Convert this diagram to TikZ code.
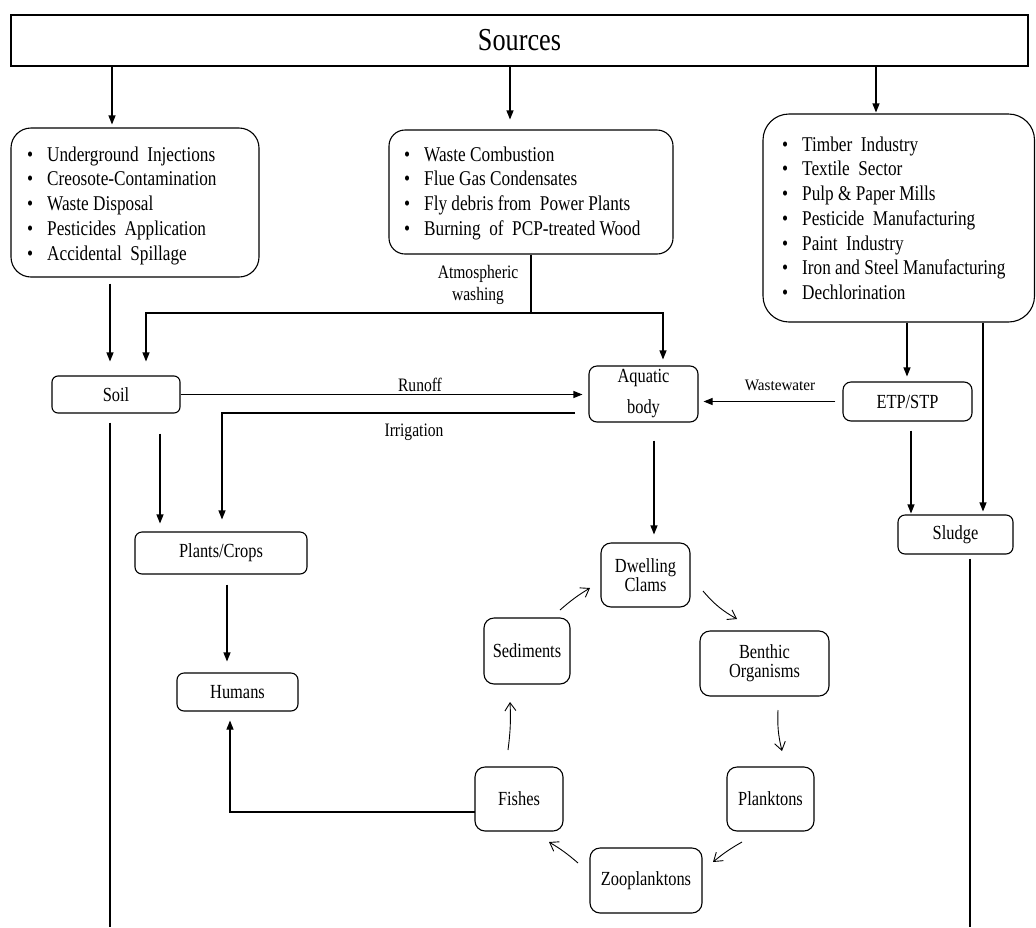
\documentclass[tikz,border=0pt]{standalone}
\usepackage{fontspec}
\setmainfont[FakeStretch=0.82]{Liberation Serif}
\newfontfamily\wwfont[FakeStretch=0.95]{Liberation Serif}
\usetikzlibrary{arrows.meta}
\newcommand{\bul}{\makebox[20pt][l]{{\fontsize{21}{21}\selectfont •}}}
\begin{document}
\begin{tikzpicture}[x=1pt,y=-1pt,
  rbox/.style={draw, line width=1.1pt, rounded corners=#1, inner sep=0pt, align=center, font=\fontsize{20}{19}\selectfont},
  rbox/.default=7pt,
  lst/.style={anchor=north west, inner sep=0pt, align=left, font=\fontsize{21}{24.7}\selectfont},
  lbl/.style={inner sep=0pt, align=center, font=\fontsize{19}{21.5}\selectfont},
  arr/.style={line width=1.1pt, -{Triangle[length=9pt,width=7pt]}},
  carr/.style={line width=0.9pt, -{Straight Barb[length=8pt,width=11pt]}},
  ln/.style={line width=1.1pt}]
\fill[white] (0,0) rectangle (1036,927);
\useasboundingbox (0,0) rectangle (1036,927);

% boxes
\node[draw, line width=1.1pt, minimum width=1017pt, minimum height=51pt, inner sep=0pt,
      font=\fontsize{32}{36}\selectfont] (sources) at (519.5,40.5) {Sources};
\node[rbox=20pt, minimum width=248pt, minimum height=149pt] (leftbox) at (135,202.5) {};
\node[rbox=16pt, minimum width=284pt, minimum height=124pt] (midbox) at (531,192) {};
\node[rbox=26pt, minimum width=271.5pt, minimum height=208pt] (rightbox) at (898.75,218) {};

\node[lst] (leftlist) at (27,145) {\rule{0pt}{16pt}\bul Underground\ \ Injections\\ \bul Creosote-Contamination\\ \bul Waste Disposal\\ \bul Pesticides\ \ Application\\ \bul Accidental\ \ Spillage};
\node[lst] (midlist) at (404,145) {\rule{0pt}{16pt}\bul Waste Combustion\\ \bul Flue Gas Condensates\\ \bul Fly debris from\ \ Power Plants\\ \bul Burning\ \ of\ \ PCP-treated Wood};
\node[lst] (rightlist) at (782,135) {\rule{0pt}{16pt}\bul Timber\ \ Industry\\ \bul Textile\ \ Sector\\ \bul Pulp \& Paper Mills\\ \bul Pesticide\ \ Manufacturing\\ \bul Paint\ \ Industry\\ \bul Iron and Steel Manufacturing\\ \bul Dechlorination};

\node[rbox=6pt, minimum width=128pt, minimum height=37pt] (soil) at (116,394.5) {Soil};
\node[rbox=8pt, minimum width=109pt, minimum height=56pt, font=\fontsize{20}{31}\selectfont] (aquatic) at (643.5,394) {Aquatic\\body};
\node[rbox=8pt, minimum width=129pt, minimum height=39pt] (etp) at (907.5,401.5) {ETP/STP};
\node[rbox=7pt, minimum width=115pt, minimum height=39pt] (sludge) at (955.5,534.5) {Sludge};
\node[rbox=7pt, minimum width=172pt, minimum height=42pt] (plants) at (221,553) {Plants/Crops};
\node[rbox=7pt, minimum width=121pt, minimum height=38pt] (humans) at (237.5,692) {Humans};
\node[rbox=10pt, minimum width=89pt, minimum height=64pt] (dwelling) at (645.5,575) {Dwelling\\Clams};
\node[rbox=10pt, minimum width=129pt, minimum height=65pt] (benthic) at (764.5,663.5) {Benthic\\Organisms};
\node[rbox=10pt, minimum width=86pt, minimum height=66pt] (sediments) at (527,651) {Sediments};
\node[rbox=10pt, minimum width=88pt, minimum height=64pt] (fishes) at (519,799) {Fishes};
\node[rbox=10pt, minimum width=87pt, minimum height=64pt] (planktons) at (770.5,799) {Planktons};
\node[rbox=10pt, minimum width=112pt, minimum height=65pt] (zoo) at (646,880.5) {Zooplanktons};

% labels
\node[lbl] (atmlbl) at (478,285) {Atmospheric\\washing};
\node[lbl] (runlbl) at (420,385) {Runoff};
\node[lbl] (irrlbl) at (414,432) {Irrigation};
\node[inner sep=0pt, font=\wwfont\fontsize{16}{18}\selectfont] (wwlbl) at (780,385) {Wastewater};

% x positions
\coordinate (xA) at (112,0);
\coordinate (xB) at (510,0);
\coordinate (xC) at (876,0);
\coordinate (xD) at (110,0);
\coordinate (xE) at (907,0);
\coordinate (xF) at (983,0);
\coordinate (xG) at (911,0);
\coordinate (xH) at (160,0);
\coordinate (xJ) at (654,0);
\coordinate (xK) at (227,0);
\coordinate (xI) at (222,0);
\coordinate (xL) at (230,0);

% connectors from sources
\draw[arr, shorten >=3pt] (sources.south -| xA) -- (leftbox.north -| xA);
\draw[arr, shorten >=10pt] (sources.south -| xB) -- (midbox.north -| xB);
\draw[arr, shorten >=1pt] (sources.south -| xC) -- (rightbox.north -| xC);

% left box to soil
\draw[arr, shorten <=6pt, shorten >=14pt] (leftbox.south -| xD) -- (soil.north -| xD);

% atmospheric washing
\coordinate (jn) at (531,313);
\coordinate (atL) at (146,313);
\coordinate (atR) at (663,313);
\draw[ln] (midbox.south) -- (jn);
\draw[arr, shorten >=14pt] (jn) -- (atL) -- (soil.north -| atL);
\draw[arr, shorten >=6pt] (jn) -- (atR) -- (aquatic.north -| atR);

% runoff, irrigation, wastewater
\draw[arr, shorten >=6pt] (soil.east) -- (soil.east -| aquatic.west);
\coordinate (irrS) at (575,413);
\draw[arr, shorten >=12pt] (irrS) -| (plants.north -| xI);
\draw[arr, shorten <=7pt, shorten >=5pt] (etp.west) -- (etp.west -| aquatic.east);

% right side
\draw[arr, shorten >=5pt] (rightbox.south -| xE) -- (etp.north -| xE);
\draw[arr, shorten >=3pt] (rightbox.south -| xF) -- (sludge.north -| xF);
\draw[arr, shorten <=9pt, shorten >=1pt] (etp.south -| xG) -- (sludge.north -| xG);
\coordinate (sB) at (970,927);
\draw[ln, shorten <=4pt] (sludge.south -| sB) -- (sB);
\coordinate (soB) at (110,927);
\draw[ln, shorten <=9pt] (soil.south -| soB) -- (soB);

% down arrows
\draw[arr, shorten <=20pt, shorten >=8pt] (soil.south -| xH) -- (plants.north -| xH);
\draw[arr, shorten <=18pt, shorten >=8pt] (aquatic.south -| xJ) -- (dwelling.north -| xJ);
\draw[arr, shorten <=10pt, shorten >=11pt] (plants.south -| xK) -- (humans.north -| xK);
\coordinate (fhS) at (475,812);
\draw[arr, shorten >=9pt] (fhS) -| (humans.south -| xL);

% cycle
\coordinate (c1a) at (560,610); \coordinate (c1b) at (590,588);
\coordinate (c2a) at (703,591); \coordinate (c2b) at (737,619);
\coordinate (c3a) at (778,710); \coordinate (c3b) at (782,751);
\coordinate (c4a) at (742,842); \coordinate (c4b) at (713,862);
\coordinate (c5a) at (578,863); \coordinate (c5b) at (549,842);
\coordinate (c6a) at (508,750); \coordinate (c6b) at (510,702);
\draw[carr] (c1a) to[bend left=5] (c1b);
\draw[carr] (c2a) to[bend right=10] (c2b);
\draw[carr] (c3a) to[bend right=8] (c3b);
\draw[carr] (c4a) to[bend right=5] (c4b);
\draw[carr] (c5a) to[bend right=5] (c5b);
\draw[carr] (c6a) to[bend right=5] (c6b);
\end{tikzpicture}
\end{document}
